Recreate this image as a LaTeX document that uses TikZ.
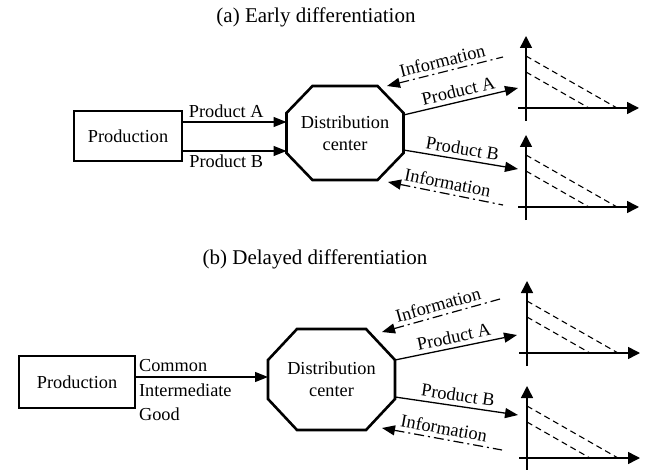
\documentclass[tikz,border=0pt]{standalone}
\usepackage{fontspec}
\setmainfont{Liberation Serif}
\usetikzlibrary{arrows.meta,calc}
\def\stockplot(#1,#2){\begin{scope}[shift={(#1,#2)}]
	\draw[axisline] (0,13) -- (0,-72);
	\draw[axisline] (-8,0) -- (113,0);
	\draw[stockline] (0,-52) -- (91,0);
	\draw[stockline] (0,-36) -- (63,0);
\end{scope}}
\def\octagon(#1)(#2:#3){\draw[octoline] ([xshift=#2]#1.north west) -- ([xshift=-#2]#1.north east) -- ([yshift=-#3]#1.north east) -- ([yshift=#3]#1.south east) -- ([xshift=-#2]#1.south east) -- ([xshift=#2]#1.south west) -- ([yshift=#3]#1.south west) -- ([yshift=-#3]#1.north west) -- cycle;}

\begin{document}
\begin{tikzpicture}[x=1pt, y=-1pt,
	every node/.style={font=\fontsize{18.3}{22}\selectfont},
	heading/.style={font=\fontsize{21}{25}\selectfont, anchor=base},
	prodbox/.style={draw, line width=1.2pt, minimum height=#1, inner sep=0pt},
	center/.style={align=center, inner sep=0pt, outer sep=0pt},
	octoline/.style={line width=2.6pt, line join=miter},
	flowarrow/.style={line width=1.3pt, -{Triangle[length=13pt,width=10pt]}},
	infoarrow/.style={line width=1.2pt, dash pattern=on 10pt off 4pt on 2pt off 4pt, {Triangle[length=13pt,width=10pt]}-},
	axisline/.style={line width=1.5pt, -{Triangle[length=12pt,width=12pt]}},
	stockline/.style={line width=1.1pt, dash pattern=on 6pt off 4pt},
	flowlabel/.style={above, sloped, inner sep=4pt}]
	%%%%% START %%%%%
	\useasboundingbox (0,0) rectangle (652,470);
	
	% (a) early differentiation
	\node[heading] (titleA) at (316,23) {(a) Early differentiation};
	
	\node[prodbox=50pt, minimum width=108pt] (prodA) at (128,136) {Production};
	\node[center, minimum width=117pt, minimum height=94pt] (dcA) at (345,133) {Distribution\\center};
	\octagon(dcA)(26pt:27pt)
	
	\draw[flowarrow] ([yshift=14pt]prodA.east) -- node[above, pos=0.42] {Product A} ([yshift=14pt]prodA.east -| dcA.west);
	\draw[flowarrow] ([yshift=-15pt]prodA.east) -- node[below, pos=0.42] {Product B} ([yshift=-15pt]prodA.east -| dcA.west);
	
	\coordinate (endAA) at (518,88);
	\coordinate (endAB) at (518,169);
	\coordinate (infoAA) at (503,57);
	\coordinate (tipAA) at (387,86);
	\coordinate (infoAB) at (503,205);
	\coordinate (tipAB) at (388,182);
	
	\draw[flowarrow] ([yshift=18pt]dcA.east) -- node[flowlabel] {Product A} (endAA);
	\draw[flowarrow] ([yshift=-17pt]dcA.east) -- node[flowlabel] {Product B} (endAB);
	\draw[infoarrow] (tipAA) -- node[flowlabel] {Information} (infoAA);
	\draw[infoarrow] (tipAB) -- node[flowlabel] {Information} (infoAB);
	
	\stockplot(526,108)
	\stockplot(526,207)
	
	% (b) delayed differentiation
	\node[heading] (titleB) at (315,264.5) {(b) Delayed differentiation};
	
	\node[prodbox=52pt, minimum width=116pt] (prodB) at (77,382) {Production};
	\node[center, minimum width=127pt, minimum height=101pt] (dcB) at (331.5,379.5) {Distribution\\center};
	\octagon(dcB)(29pt:31pt)
	
	\draw[flowarrow] ([yshift=5pt]prodB.east) -- ([yshift=5pt]prodB.east -| dcB.west);
	\node[anchor=west, align=left, font=\fontsize{18.3}{24.5}\selectfont, yshift=-8.5pt] (goodB) at (prodB.east) {Common\\Intermediate\\Good};
	
	\coordinate (endBA) at (517,335);
	\coordinate (endBB) at (518,415);
	\coordinate (infoBA) at (500,299);
	\coordinate (tipBA) at (382,332);
	\coordinate (infoBB) at (502,450);
	\coordinate (tipBB) at (382,428);
	
	\draw[flowarrow] ([yshift=19.5pt]dcB.east) -- node[flowlabel] {Product A} (endBA);
	\draw[flowarrow] ([yshift=-17.5pt]dcB.east) -- node[flowlabel] {Product B} (endBB);
	\draw[infoarrow] (tipBA) -- node[flowlabel] {Information} (infoBA);
	\draw[infoarrow] (tipBB) -- node[flowlabel] {Information} (infoBB);
	
	\stockplot(527,353)
	\stockplot(527,458)
	
	%%%%% END %%%%%
\end{tikzpicture}
\end{document}
